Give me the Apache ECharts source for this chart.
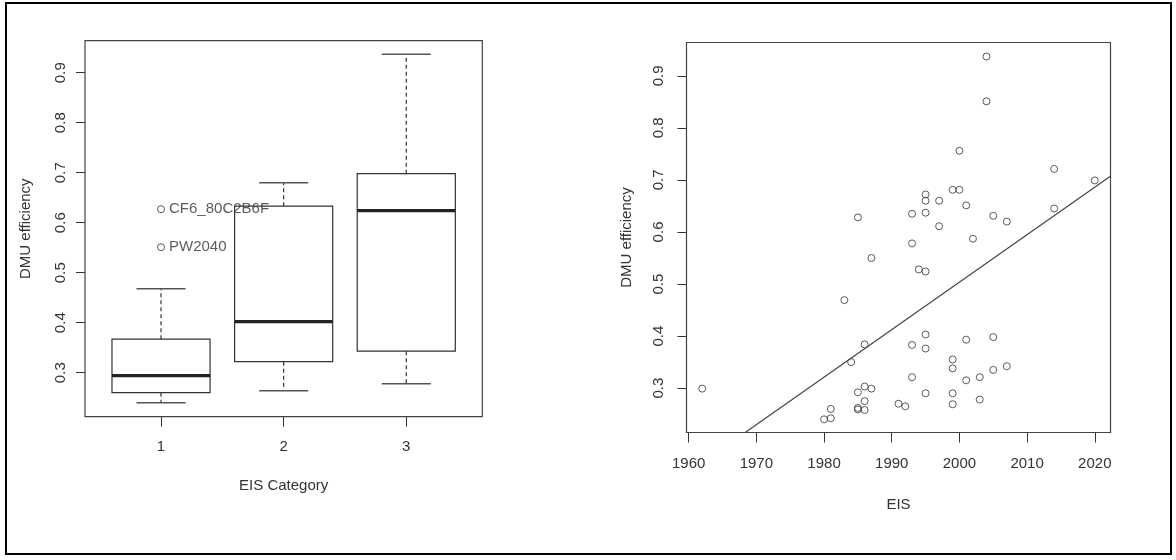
<!DOCTYPE html>
<html><head><meta charset="utf-8">
<script src="https://cdn.jsdelivr.net/npm/echarts@6/dist/echarts.min.js"></script>
<style>html,body{margin:0;padding:0;background:#fff}#c{width:1176px;height:560px}</style>
</head><body><div id="c"></div>
<script>
// ---- Left panel: boxplot of DMU efficiency by EIS category ----
const boxCategories = [1, 2, 3];
const boxMin    = [0.240, 0.264, 0.278];
const boxQ1     = [0.260, 0.322, 0.343];
const boxMedian = [0.294, 0.402, 0.624];
const boxQ3     = [0.367, 0.633, 0.698];
const boxMax    = [0.468, 0.680, 0.937];
const outlierCategory = [1, 1];
const outlierValue    = [0.627, 0.551];
const outlierLabel    = ['CF6_80C2B6F', 'PW2040'];
const effTicks = [0.3, 0.4, 0.5, 0.6, 0.7, 0.8, 0.9];

// ---- Right panel: DMU efficiency vs EIS year ----
const eisYears = [1962, 1980, 1981, 1981, 1983, 1984, 1985, 1985, 1985, 1985,
  1986, 1986, 1986, 1986, 1987, 1987, 1991, 1992, 1993, 1993, 1993, 1993, 1994,
  1995, 1995, 1995, 1995, 1995, 1995, 1995, 1997, 1997, 1999, 1999, 1999, 1999, 1999,
  2000, 2000, 2001, 2001, 2001, 2002, 2003, 2003, 2004, 2004, 2005, 2005, 2005,
  2007, 2007, 2014, 2014, 2020];
const eisEff = [0.299, 0.240, 0.260, 0.242, 0.469, 0.350, 0.628, 0.292, 0.262, 0.259,
  0.384, 0.303, 0.275, 0.258, 0.550, 0.299, 0.270, 0.265, 0.635, 0.578, 0.383, 0.321, 0.528,
  0.672, 0.660, 0.637, 0.524, 0.403, 0.376, 0.290, 0.660, 0.611, 0.681, 0.355, 0.338, 0.290, 0.269,
  0.756, 0.681, 0.651, 0.393, 0.315, 0.587, 0.321, 0.278, 0.937, 0.851, 0.631, 0.398, 0.335,
  0.620, 0.342, 0.721, 0.645, 0.699];
const yearTicks = [1960, 1970, 1980, 1990, 2000, 2010, 2020];
const trendYears = [1968.4, 2022.3];
const trendEff   = [0.215, 0.707];

const FONT = 'Liberation Sans, Arial, sans-serif';
const INK = '#333';
const TXT = '#333';

const boxData = boxCategories.map((c, i) => [c, boxMin[i], boxQ1[i], boxMedian[i], boxQ3[i], boxMax[i]]);
const outlierData = outlierCategory.map((c, i) => ({ value: [c, outlierValue[i]], name: outlierLabel[i] }));
const scatterData = eisYears.map((y, i) => [y, eisEff[i]]);
const trendData = trendYears.map((y, i) => [y, trendEff[i]]);

function renderBox(params, api) {
  const x = api.value(0);
  const pMin = api.coord([x, api.value(1)]);
  const pQ1 = api.coord([x, api.value(2)]);
  const pMed = api.coord([x, api.value(3)]);
  const pQ3 = api.coord([x, api.value(4)]);
  const pMax = api.coord([x, api.value(5)]);
  const halfBox = api.size([0.4, 0])[0];
  const halfCap = api.size([0.2, 0])[0];
  const cx = pMed[0];
  const solid = { stroke: INK, lineWidth: 1.2, fill: null };
  const dashed = { stroke: INK, lineWidth: 1.2, lineDash: [4, 3] };
  return {
    type: 'group',
    children: [
      { type: 'line', shape: { x1: cx, y1: pQ3[1], x2: cx, y2: pMax[1] }, style: dashed },
      { type: 'line', shape: { x1: cx, y1: pQ1[1], x2: cx, y2: pMin[1] }, style: dashed },
      { type: 'line', shape: { x1: cx - halfCap, y1: pMax[1], x2: cx + halfCap, y2: pMax[1] }, style: { stroke: '#555', lineWidth: 1.5 } },
      { type: 'line', shape: { x1: cx - halfCap, y1: pMin[1], x2: cx + halfCap, y2: pMin[1] }, style: { stroke: '#555', lineWidth: 1.5 } },
      { type: 'rect', shape: { x: cx - halfBox, y: pQ3[1], width: 2 * halfBox, height: pQ1[1] - pQ3[1] }, style: solid },
      { type: 'line', shape: { x1: cx - halfBox, y1: pMed[1], x2: cx + halfBox, y2: pMed[1] }, style: { stroke: '#222', lineWidth: 3.2 } }
    ]
  };
}

const axisCommon = {
  axisLine: { show: false },
  splitLine: { show: false },
  nameLocation: 'middle',
  nameTextStyle: { fontFamily: FONT, fontSize: 15, color: TXT }
};
const lbl = { fontFamily: FONT, fontSize: 15, color: TXT };

const chart = echarts.init(document.getElementById('c'));
chart.setOption({
  animation: false,
  backgroundColor: '#fff',
  graphic: [{ type: 'rect', shape: { x: 6, y: 3, width: 1165, height: 551 }, style: { fill: null, stroke: '#000', lineWidth: 2 }, z: 100 }],
  grid: [
    { left: 85, top: 40.7, width: 397.3, height: 376, show: true, borderColor: '#444', borderWidth: 1.2, backgroundColor: 'transparent' },
    { left: 686.5, top: 42.5, width: 424, height: 390, show: true, borderColor: '#444', borderWidth: 1.2, backgroundColor: 'transparent' }
  ],
  xAxis: [
    Object.assign({}, axisCommon, {
      gridIndex: 0, type: 'value', min: 0.38, max: 3.62,
      name: 'EIS Category', nameGap: 62,
      axisTick: { show: true, length: 10, customValues: boxCategories, lineStyle: { color: INK } },
      axisLabel: Object.assign({ customValues: boxCategories, margin: 23 }, lbl)
    }),
    Object.assign({}, axisCommon, {
      gridIndex: 1, type: 'value', min: 1959.68, max: 2022.32,
      name: 'EIS', nameGap: 65,
      axisTick: { show: true, length: 10, customValues: yearTicks, lineStyle: { color: INK } },
      axisLabel: Object.assign({ customValues: yearTicks, margin: 24, formatter: v => String(v) }, lbl)
    })
  ],
  yAxis: [
    Object.assign({}, axisCommon, {
      gridIndex: 0, type: 'value', min: 0.212, max: 0.964,
      name: 'DMU efficiency', nameGap: 52, nameRotate: 90,
      axisTick: { show: true, length: 9, customValues: effTicks, lineStyle: { color: INK } },
      axisLabel: Object.assign({ customValues: effTicks, rotate: 90, margin: 17, formatter: v => v.toFixed(1) }, lbl)
    }),
    Object.assign({}, axisCommon, {
      gridIndex: 1, type: 'value', min: 0.2147, max: 0.964,
      name: 'DMU efficiency', nameGap: 52, nameRotate: 90,
      axisTick: { show: true, length: 9, customValues: effTicks, lineStyle: { color: INK } },
      axisLabel: Object.assign({ customValues: effTicks, rotate: 90, margin: 20, formatter: v => v.toFixed(1) }, lbl)
    })
  ],
  series: [
    { type: 'custom', xAxisIndex: 0, yAxisIndex: 0, data: boxData, renderItem: renderBox, encode: { x: 0, y: [1, 2, 3, 4, 5] } },
    {
      type: 'scatter', xAxisIndex: 0, yAxisIndex: 0, data: outlierData,
      symbol: 'circle', symbolSize: 7,
      itemStyle: { color: 'rgba(0,0,0,0)', borderColor: INK, borderWidth: 1 },
      label: { show: true, position: 'right', distance: 4, formatter: p => p.name, fontFamily: FONT, fontSize: 15, color: TXT }
    },
    {
      type: 'scatter', xAxisIndex: 1, yAxisIndex: 1, data: scatterData,
      symbol: 'circle', symbolSize: 7,
      itemStyle: { color: 'rgba(0,0,0,0)', borderColor: INK, borderWidth: 1 }
    },
    {
      type: 'line', xAxisIndex: 1, yAxisIndex: 1, data: trendData,
      showSymbol: false, symbol: 'none', clip: true,
      lineStyle: { color: '#444', width: 1.2 }
    }
  ]
});
</script></body></html>
